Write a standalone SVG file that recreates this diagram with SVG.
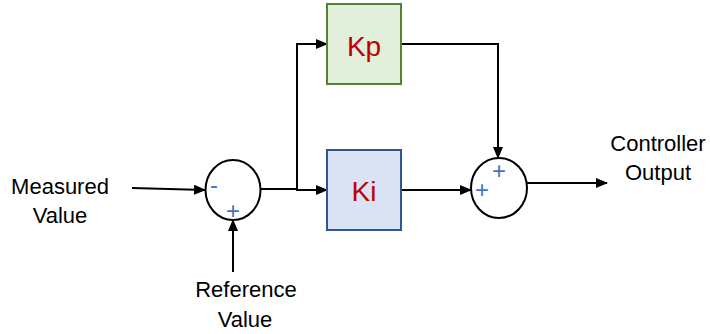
<svg xmlns="http://www.w3.org/2000/svg" width="710" height="334" viewBox="0 0 710 334">
<defs>
<marker id="arr" markerWidth="12" markerHeight="10" refX="11" refY="5" orient="auto" markerUnits="userSpaceOnUse">
<path d="M0,0 L12,5 L0,10 Z" fill="#000"/>
</marker>
<style>
.ln{fill:none;stroke:#000;stroke-width:2}
.sum{fill:#fff;stroke:#000;stroke-width:2}
.lbl{font-family:"Liberation Sans",Arial,sans-serif;font-size:22px;fill:#000;text-anchor:middle}
.gain{font-family:"Liberation Sans",Arial,sans-serif;font-size:28px;fill:#C00000;text-anchor:middle}
.sgn{font-family:"Liberation Sans",Arial,sans-serif;font-size:24px;fill:#4472C4;text-anchor:middle;dominant-baseline:central}
</style>
</defs>
<rect width="710" height="334" fill="#fff"/>
<g id="connectors">
<path class="ln" d="M132,188 L205,190" marker-end="url(#arr)"/>
<path class="ln" d="M233,272 L233,220" marker-end="url(#arr)"/>
<path class="ln" d="M261,189 L297,189 L297,44 L327,44" marker-end="url(#arr)"/>
<path class="ln" d="M297,189 L297,190 L327,190" marker-end="url(#arr)"/>
<path class="ln" d="M401,44 L498,44 L498,158" marker-end="url(#arr)"/>
<path class="ln" d="M401,190 L471,190" marker-end="url(#arr)"/>
<path class="ln" d="M527,183 L607,183" marker-end="url(#arr)"/>
</g>
<g id="sum1">
<ellipse class="sum" cx="233" cy="190" rx="27.5" ry="30"/>
<text class="sgn" x="214" y="184">-</text>
<text class="sgn" x="233" y="210">+</text>
</g>
<g id="sum2">
<ellipse class="sum" cx="499" cy="188" rx="28" ry="30"/>
<text class="sgn" x="499" y="170">+</text>
<text class="sgn" x="482" y="189">+</text>
</g>
<g id="kp">
<rect x="327" y="4" width="74" height="80" fill="#E2EFDA" stroke="#548235" stroke-width="2"/>
<text class="gain" x="364" y="56">Kp</text>
</g>
<g id="ki">
<rect x="327" y="150" width="74" height="80" fill="#DAE3F3" stroke="#2F5597" stroke-width="2"/>
<text class="gain" x="364" y="201">Ki</text>
</g>
<g id="measured">
<text class="lbl" x="60" y="194">Measured</text>
<text class="lbl" x="60" y="223">Value</text>
</g>
<g id="reference">
<text class="lbl" x="246" y="297">Reference</text>
<text class="lbl" x="245" y="327">Value</text>
</g>
<g id="output">
<text class="lbl" x="658" y="151">Controller</text>
<text class="lbl" x="658" y="180">Output</text>
</g>
</svg>
